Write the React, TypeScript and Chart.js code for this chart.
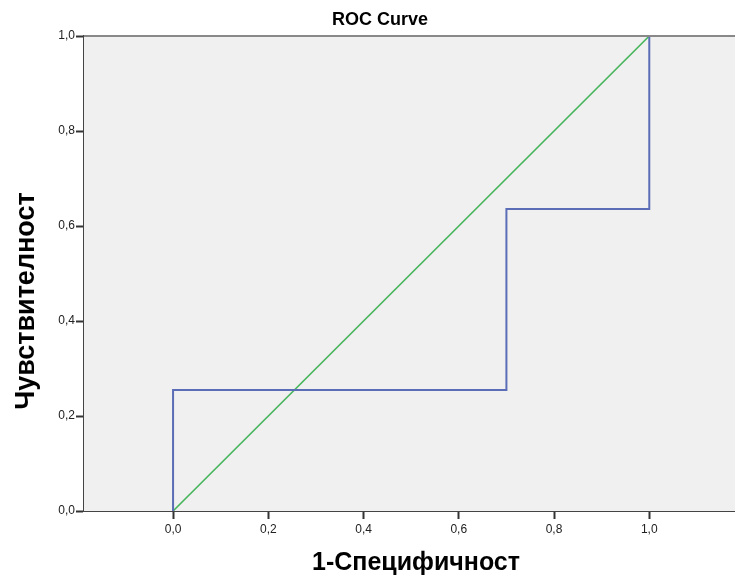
import React, { useEffect, useRef } from "react";
import { Chart, registerables } from "chart.js";

Chart.register(...registerables);

const chartTitle = "ROC Curve";
const xAxisTitle = "1-Специфичност";
const yAxisTitle = "Чувствителност";

const rocX = [0, 0, 0.7, 0.7, 1, 1];
const rocY = [0, 0.255, 0.255, 0.636, 0.636, 1];
const refX = [0, 1];
const refY = [0, 1];
const tickValues = [0, 0.2, 0.4, 0.6, 0.8, 1.0];

const fmt = (v: number) => v.toFixed(1).replace(".", ",");

const decorPlugin = {
  id: "decor",
  beforeDatasetsDraw(chart: any) {
    const { ctx, chartArea: a } = chart;
    ctx.save();
    ctx.fillStyle = "#f0f0f0";
    ctx.fillRect(a.left, a.top, a.right - a.left, a.bottom - a.top);
    ctx.restore();
  },
  afterDraw(chart: any) {
    const { ctx, chartArea: a } = chart;
    ctx.save();
    ctx.strokeStyle = "#888888";
    ctx.lineWidth = 2;
    ctx.beginPath();
    ctx.moveTo(a.left, a.top);
    ctx.lineTo(a.right, a.top);
    ctx.stroke();
    ctx.fillStyle = "#000";
    ctx.textAlign = "center";
    ctx.textBaseline = "middle";
    ctx.font = "bold 18px 'Liberation Sans', Arial, sans-serif";
    ctx.fillText(chartTitle, 380, 20);
    ctx.font = "bold 25px 'Liberation Sans', Arial, sans-serif";
    ctx.fillText(xAxisTitle, 416, 563);
    ctx.font = "bold 27px 'Liberation Sans', Arial, sans-serif";
    ctx.translate(27, 301);
    ctx.rotate(-Math.PI / 2);
    ctx.fillText(yAxisTitle, 0, 0);
    ctx.restore();
  },
};

export default function App() {
  const ref = useRef<HTMLCanvasElement>(null);
  useEffect(() => {
    document.body.style.margin = "0";
    const tickFont = { family: "'Liberation Sans', Arial, sans-serif", size: 12 };
    const chart = new Chart(ref.current!, {
      type: "scatter",
      data: {
        datasets: [
          {
            data: rocX.map((x, i) => ({ x, y: rocY[i] })),
            showLine: true,
            borderColor: "#5b6db6",
            borderWidth: 2,
            pointRadius: 0,
            fill: false,
          },
          {
            data: refX.map((x, i) => ({ x, y: refY[i] })),
            showLine: true,
            borderColor: "#47b55c",
            borderWidth: 1.6,
            pointRadius: 0,
            fill: false,
          },
        ],
      },
      options: {
        animation: false,
        responsive: false,
        layout: { padding: { top: 36, right: 0, left: 0, bottom: 0 } },
        plugins: { legend: { display: false }, tooltip: { enabled: false }, title: { display: false } },
        scales: {
          x: {
            type: "linear",
            min: -0.187,
            max: 1.18,
            afterBuildTicks: (s: any) => { s.ticks = tickValues.map((v) => ({ value: v })); },
            afterFit: (s: any) => { s.height = 64; },
            ticks: { callback: (v: any) => fmt(Number(v)), color: "#222", font: tickFont, padding: 3, maxRotation: 0, autoSkip: false },
            grid: { drawOnChartArea: false, drawTicks: true, tickLength: 8, tickColor: "#333", tickWidth: 2 },
            border: { display: true, color: "#444", width: 2 },
          },
          y: {
            type: "linear",
            min: 0,
            max: 1,
            afterBuildTicks: (s: any) => { s.ticks = tickValues.map((v) => ({ value: v })); },
            afterFit: (s: any) => { s.width = 84; },
            ticks: { callback: (v: any) => fmt(Number(v)), color: "#222", font: tickFont, padding: 1, autoSkip: false },
            grid: { drawOnChartArea: false, drawTicks: true, tickLength: 8, tickColor: "#333", tickWidth: 2 },
            border: { display: true, color: "#444", width: 2 },
          },
        },
      },
      plugins: [decorPlugin],
    } as any);
    return () => chart.destroy();
  }, []);
  return <canvas ref={ref} width={735} height={575} style={{ display: "block" }} />;
}
